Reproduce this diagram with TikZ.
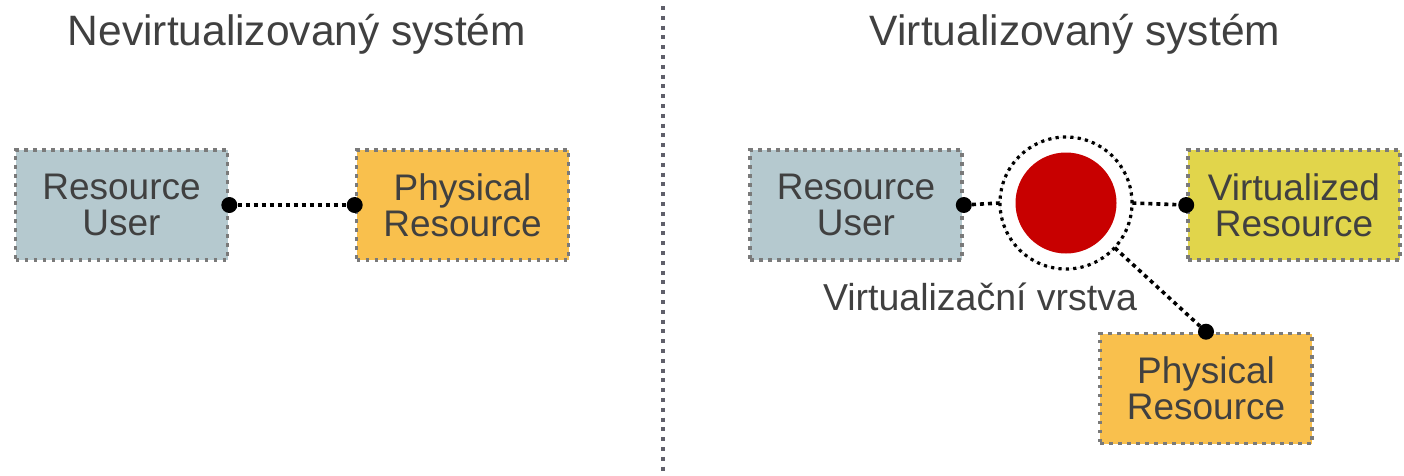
\documentclass[tikz,border=0pt]{standalone}
\usepackage{fontspec}
\setmainfont{Liberation Sans}
\definecolor{txt}{HTML}{404040}
\definecolor{userfill}{HTML}{B5C9CF}
\definecolor{physfill}{HTML}{F9C04D}
\definecolor{virtfill}{HTML}{E1D54B}
\definecolor{layerred}{HTML}{C80000}
\definecolor{frame}{HTML}{7A7A7A}
\definecolor{divider}{HTML}{5F5F6A}
\tikzset{
  resbox/.style={rectangle, draw=frame, line width=3.6pt,
    dash pattern=on 3.6pt off 5.4pt, minimum width=212pt, minimum height=110pt,
    inner sep=0pt, align=center, text=txt,
    font=\fontsize{37}{36}\selectfont},
  endpoint/.style={circle, fill=black, inner sep=0pt, minimum size=16pt},
  conn/.style={black, line width=3.6pt, dash pattern=on 4pt off 4pt},
  title/.style={text=txt, font=\fontsize{42.5}{48}\selectfont, anchor=base},
}
\begin{document}
\begin{tikzpicture}[x=1pt,y=-1pt]
\useasboundingbox (0,0) rectangle (1404,475);

% divider between the two halves
\coordinate (divtop) at (663,6);
\coordinate (divbot) at (663,475);
\draw[divider, line width=4pt, dash pattern=on 4pt off 5.8pt] (divtop) -- (divbot);

% headings
\node[title] (t1) at (297,45) {Nevirtualizovaný systém};
\node[title] (t2) at (1075,45) {Virtualizovaný systém};

% non-virtualized system
\node[resbox, fill=userfill] (ru1) at (121.5,205) {Resource\\User};
\node[resbox, fill=physfill] (pr1) at (462.5,205) {Physical\\Resource};
\node[endpoint] (d1) at (ru1.east) {};
\node[endpoint] (d2) at (pr1.west) {};
\draw[conn] (d1) -- (d2);

% virtualized system
\node[resbox, fill=userfill] (ru2) at (856,205) {Resource\\User};
\node[resbox, fill=virtfill] (vr) at (1294,205) {Virtualized\\Resource};
\node[resbox, fill=physfill] (pr2) at (1206,388.5) {Physical\\Resource};

% virtualization layer
\node[circle, fill=layerred, minimum size=101pt, inner sep=0pt] (core) at (1066,203) {};
\node[circle, draw=black!18, line width=0.6pt, minimum size=132pt, inner sep=0pt] (ring) at (1066,203) {};
\draw[black, line width=3.2pt, dash pattern=on 3.2pt off 4.2pt] (1066,203) circle[radius=66pt];
\node[text=txt, font=\fontsize{37.5}{40}\selectfont, anchor=base] (lbl) at (980,310) {Virtualizační vrstva};

\node[endpoint] (d3) at (ru2.east) {};
\node[endpoint] (d4) at (vr.west) {};
\node[endpoint] (d5) at (pr2.north) {};
\draw[conn] (d3) -- (ring.west);
\draw[conn] (ring.east) -- (d4);
\draw[conn] (ring) -- (d5);
\end{tikzpicture}
\end{document}
